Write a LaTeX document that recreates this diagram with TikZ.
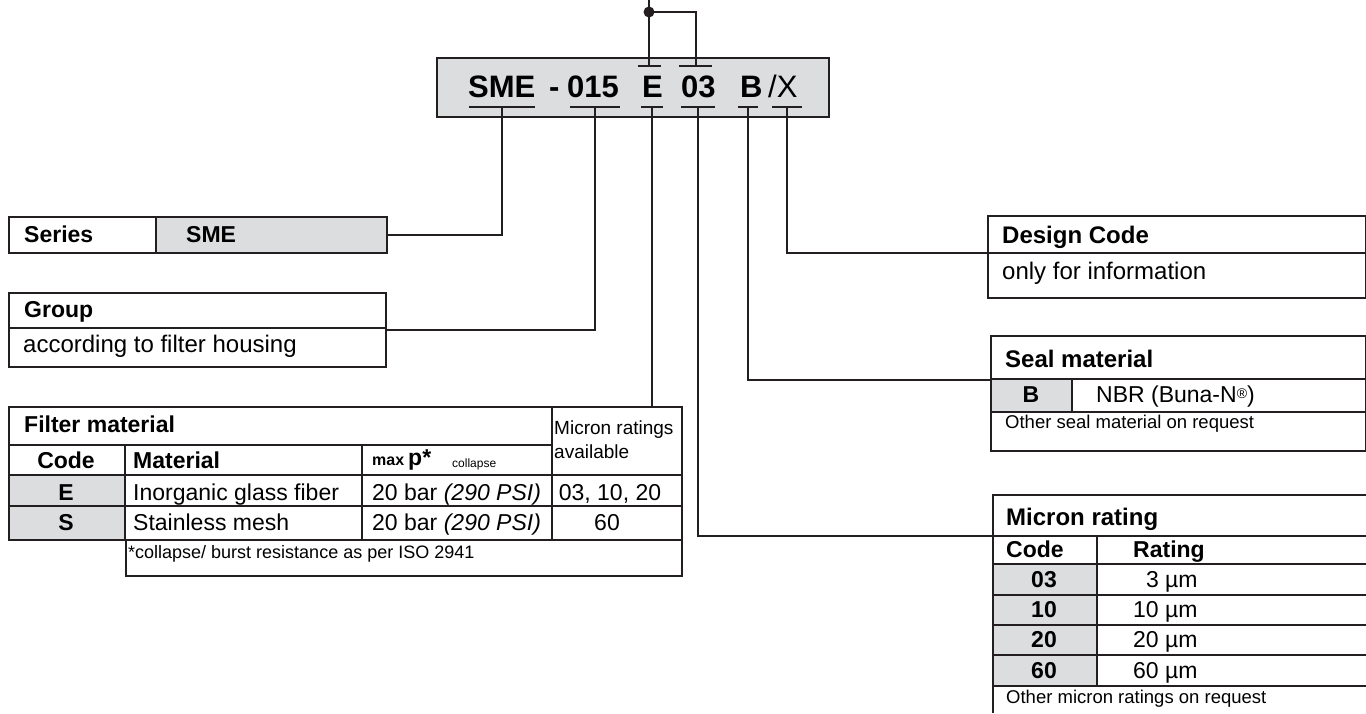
\documentclass[tikz,border=0pt]{standalone}
\usepackage{fontspec}
\setmainfont{Liberation Sans}
\usepackage{xcolor}
\usepackage{tikz}
\usetikzlibrary{positioning,calc}
\definecolor{cellgray}{HTML}{DCDDDF}
\definecolor{ink}{HTML}{231F20}
\tikzset{
box/.style={draw=ink,line width=1.8pt,inner sep=0pt,anchor=north west},
grid/.style={draw=ink,line width=1.3pt},
lead/.style={draw=ink,line width=1.5pt},
tick/.style={draw=ink,line width=1.5pt},
ttl/.style={anchor=base west,inner sep=0pt,font=\fontsize{23}{26}\selectfont\bfseries},
bigttl/.style={ttl,font=\fontsize{24}{27}\selectfont\bfseries},
txt/.style={anchor=base west,inner sep=0pt,font=\fontsize{23}{26}\selectfont},
bigtxt/.style={txt,font=\fontsize{24}{27}\selectfont},
mid/.style={anchor=base,inner sep=0pt,font=\fontsize{23}{26}\selectfont},
note/.style={anchor=base west,inner sep=0pt,font=\fontsize{18.5}{21}\selectfont},
codetxt/.style={anchor=base west,inner sep=0pt,font=\fontsize{31}{34}\selectfont\bfseries}
}
\begin{document}
\begin{tikzpicture}[x=1pt,y=-1pt]
\useasboundingbox (0,0) rectangle (1366,713);
% type code
\node[box,fill=cellgray,minimum width=392pt,minimum height=59pt] (codebox) at (436,57) {};
\node[codetxt] (cSME) at (468,97) {SME};
\node[codetxt] (cdash) at (549,97) {-};
\node[codetxt] (c015) at (567,97) {015};
\node[codetxt] (cE) at (642,97) {E};
\node[codetxt] (c03) at (681,97) {03};
\node[codetxt] (cB) at (740,97) {B};
\node[codetxt,font=\fontsize{31}{34}\selectfont] (cX) at (768,97) {/X};
\foreach \n/\x/\w in {SME/502/33,015/595/25,E/652/11,03/698/17,B/748/10,X/787/15}{
\draw[tick] (\x-\w,107)--(\x+\w,107);
\coordinate (u\n) at (\x,107);}
\draw[tick] (638,66)--(661,66) (679,66)--(712,66);
\coordinate (oE) at (649,66);
\coordinate (o03) at (696,66);
\coordinate (jn) at (649,12);
\draw[lead] (649,0)--(jn)--(oE);
\draw[lead] (jn)-|(o03);
\fill[ink] (jn) circle (5.5);
% series
\fill[cellgray] (156,216) rectangle (386,252);
\node[box,minimum width=378pt,minimum height=36pt] (series) at (8,216) {};
\draw[grid] (156,216)--(156,252);
\node[ttl] (seriesT) at (24,242) {Series};
\node[ttl] (seriesV) at (186,242) {SME};
% group
\node[box,minimum width=377pt,minimum height=74pt] (group) at (8,292) {};
\draw[grid] (8,328)--(385,328);
\node[ttl] (groupT) at (24,317) {Group};
\node[bigtxt] (groupV) at (23,352) {according to filter housing};
% filter material
\fill[cellgray] (8,475) rectangle (125,539);
\node[box,minimum width=673pt,minimum height=133pt] (filter) at (8,406) {};
\node[box,minimum width=556pt,minimum height=36pt] (fnote) at (125,539) {};
\draw[grid] (8,445)--(552,445) (8,475)--(681,475) (8,506)--(681,506);
\draw[grid] (125,445)--(125,539) (362,445)--(362,539) (552,406)--(552,539);
\node[ttl] (filterT) at (24,432) {Filter material};
\node[ttl,anchor=base] (fCode) at (66,468) {Code};
\node[ttl] (fMat) at (133,468) {Material};
\node[ttl,font=\fontsize{16}{18}\selectfont\bfseries] (fmax) at (372,465) {max};
\node[ttl] (fp) at (408,465) {p*};
\node[note,font=\fontsize{12}{14}\selectfont] (fcol) at (452,467) {collapse};
\node[note,font=\fontsize{19}{22}\selectfont] (fmr1) at (554,434) {Micron ratings};
\node[note,font=\fontsize{19}{22}\selectfont] (fmr2) at (554,458) {available};
\node[ttl,anchor=base] (fE) at (66,500) {E};
\node[ttl,anchor=base] (fS) at (66,530) {S};
\node[txt] (fEm) at (133,500) {Inorganic glass fiber};
\node[txt] (fSm) at (133,530) {Stainless mesh};
\node[txt] (fEp) at (372,500) {20 bar \textit{(290 PSI)}};
\node[txt] (fSp) at (372,530) {20 bar \textit{(290 PSI)}};
\node[mid] (fEr) at (610,500) {03, 10, 20};
\node[mid] (fSr) at (607,530) {60};
\node[note,font=\fontsize{18}{21}\selectfont] (fnoteT) at (128,558) {*collapse/ burst resistance as per ISO 2941};
% design code
\node[box,minimum width=378pt,minimum height=82pt] (design) at (987,215) {};
\draw[grid] (987,253)--(1365,253);
\coordinate (designW) at (987,253);
\node[bigttl] (designT) at (1002,243) {Design Code};
\node[bigtxt] (designV) at (1002,279) {only for information};
% seal material
\fill[cellgray] (990,379) rectangle (1072,412);
\node[box,minimum width=375pt,minimum height=115pt] (seal) at (990,335) {};
\draw[grid] (990,379)--(1365,379) (990,412)--(1365,412) (1072,379)--(1072,412);
\coordinate (sealW) at (990,380);
\node[bigttl] (sealT) at (1005,367) {Seal material};
\node[ttl,anchor=base] (sealB) at (1031,402) {B};
\node[txt] (sealV) at (1096,402) {NBR (Buna-N{\fontsize{14}{14}\selectfont\raisebox{4pt}{®}})};
\node[note] (sealN) at (1005,428) {Other seal material on request};
% micron rating
\fill[cellgray] (993,564) rectangle (1097,686);
\draw[box] (1366,495)--(993,495)--(993,713);
\foreach \y in {536,564,595,625,655,686}{\draw[grid] (993,\y)--(1366,\y);}
\draw[grid] (1097,536)--(1097,686);
\coordinate (micronW) at (993,536);
\node[bigttl] (micT) at (1006,525) {Micron rating};
\node[ttl] (micC) at (1006,557) {Code};
\node[ttl] (micR) at (1133,557) {Rating};
\foreach \c/\v/\y in {03/{\phantom{1}3}/587,10/10/617,20/20/647,60/60/678}{
\node[ttl,anchor=base] (mc\c) at (1044,\y) {\c};
\node[txt] (mv\c) at (1133,\y) {\v~µm};}
\node[note] (micN) at (1006,703) {Other micron ratings on request};
% leads
\draw[lead] (uSME)|-(series.east);
\draw[lead] (u015)|-(group.east);
\draw[lead] (uE)--(uE|-filter.north);
\draw[lead] (u03)|-(micronW);
\draw[lead] (uB)|-(sealW);
\draw[lead] (uX)|-(designW);
\end{tikzpicture}
\end{document}
